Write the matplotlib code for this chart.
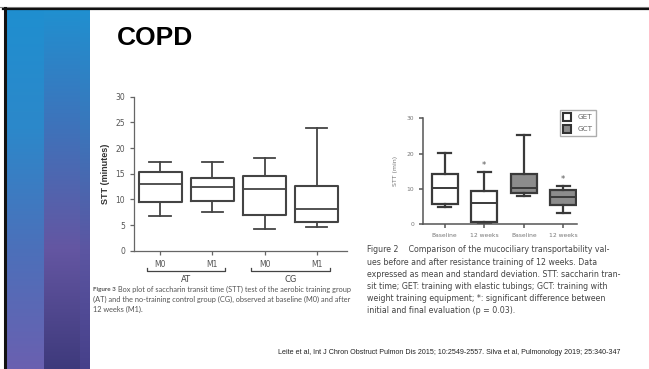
import numpy as np
import matplotlib.pyplot as plt
from matplotlib.colors import LinearSegmentedColormap
from matplotlib.patches import Patch

W, H = 649, 369

# left chart: aerobic training (AT) vs control (CG), STT in minutes
left_labels = ["M0", "M1", "M0", "M1"]
left_groups = ["AT", "CG"]
left_whislo = [6.7, 7.6, 4.2, 4.6]
left_q1 = [9.4, 9.7, 6.9, 5.5]
left_med = [12.9, 12.5, 12.1, 8.2]
left_q3 = [15.4, 14.2, 14.5, 12.7]
left_whishi = [17.3, 17.3, 18.1, 24.0]

# right chart: GET (elastic tubings) vs GCT (weight equipment)
right_labels = ["Baseline", "12 weeks", "Baseline", "12 weeks"]
right_whislo = [4.9, 0.0, 7.9, 3.0]
right_q1 = [5.8, 0.7, 8.8, 5.3]
right_med = [10.3, 6.0, 10.1, 7.6]
right_q3 = [14.1, 9.5, 14.2, 9.6]
right_whishi = [20.2, 14.7, 25.3, 10.8]
right_star = [None, 16.7, None, 12.7]

fig = plt.figure(figsize=(W / 100, H / 100), dpi=100)
bg = fig.add_axes([0, 0, 1, 1])
bg.set_xlim(0, W)
bg.set_ylim(H, 0)
bg.axis("off")

# side stripes with vertical gradients
grad = np.linspace(0, 1, 256).reshape(-1, 1)
stripes = [
    (6, 44, ["#1f8fd0", "#2c88ca", "#4c70ba", "#6a60b0"]),
    (44, 80, ["#2090d0", "#3f72ba", "#6456a2", "#3e3a7c"]),
    (80, 90, ["#2090d0", "#3a76bb", "#5c56a2", "#46408a"]),
]
for x0, x1, cols in stripes:
    cm = LinearSegmentedColormap.from_list("s", cols)
    bg.imshow(grad, cmap=cm, extent=[x0, x1, H, 9], aspect="auto", zorder=1)
bg.plot([0, W], [7.2, 7.2], color="#888888", lw=0.8, zorder=2)
bg.plot([3, W], [8.5, 8.5], color="#111111", lw=1.6, zorder=2)
bg.plot([4.8, 4.8], [8, H], color="#111111", lw=2.2, zorder=2)
bg.set_xlim(0, W)
bg.set_ylim(H, 0)

bg.text(117, 38, "COPD", fontsize=19, fontweight="bold", family="Liberation Sans",
        va="center", ha="left", color="#000000")


def px_axes(x0, x1, ytop, ybot):
    return fig.add_axes([x0 / W, 1 - ybot / H, (x1 - x0) / W, (ybot - ytop) / H])


def style(ax, color, lw):
    for s in ["top", "right"]:
        ax.spines[s].set_visible(False)
    for s in ["left", "bottom"]:
        ax.spines[s].set_color(color)
        ax.spines[s].set_linewidth(lw)
    ax.tick_params(colors=color, length=3, width=lw, direction="out")
    ax.patch.set_alpha(0)


def stats(lo, q1, med, q3, hi):
    return [dict(whislo=a, q1=b, med=c, q3=d, whishi=e, fliers=[])
            for a, b, c, d, e in zip(lo, q1, med, q3, hi)]


# ---- left chart
axl = px_axes(134, 347, 96.7, 250.7)
pos = np.arange(1, 5)
lc = "#444444"
axl.bxp(stats(left_whislo, left_q1, left_med, left_q3, left_whishi), positions=pos,
        widths=0.82, showfliers=False,
        boxprops=dict(color=lc, lw=1.5), medianprops=dict(color=lc, lw=1.3),
        whiskerprops=dict(color=lc, lw=1.3), capprops=dict(color=lc, lw=1.3))
axl.set_xlim(0.5, 4.58)
axl.set_ylim(0, 30)
axl.set_yticks(range(0, 31, 5))
axl.set_xticks(pos)
axl.set_xticklabels(left_labels)
style(axl, "#666666", 0.9)
axl.tick_params(labelsize=5.5, labelcolor="#555555")
axl.set_ylabel("STT (minutes)", fontsize=6.5, fontweight="bold", color="#333333",
               family="Liberation Sans", labelpad=4)
for i, g in enumerate(left_groups):
    c = 1.5 + 2 * i
    axl.plot([c - 0.75, c - 0.75, c + 0.75, c + 0.75], [-0.11, -0.13, -0.13, -0.11],
             color="#444444", lw=0.9, transform=axl.get_xaxis_transform(), clip_on=False)
    axl.text(c, -0.19, g, fontsize=6, color="#444444", ha="center", va="center",
             transform=axl.get_xaxis_transform())

cap3 = ["(AT) and the no-training control group (CG), observed at baseline (M0) and after",
        "12 weeks (M1)."]
fs3 = 5.3
head = bg.text(93, 289, "Figure 3", fontsize=fs3 * 0.85, fontweight="bold", color="#555555",
               family="Lato", va="center")
fig.canvas.draw()
hx = head.get_window_extent().x1
bg.text(hx + 2.5, 289, "Box plot of saccharin transit time (STT) test of the aerobic training group",
        fontsize=fs3, color="#555555", family="Lato", va="center")
for k, line in enumerate(cap3):
    bg.text(93, 299 + 10 * k, line, fontsize=fs3, color="#555555", family="Lato", va="center")

# ---- right chart
axr = px_axes(423.3, 576.7, 118.3, 224)
rc = "#3a3a3a"
bp = axr.bxp(stats(right_whislo, right_q1, right_med, right_q3, right_whishi), positions=pos,
             widths=0.66, showfliers=False, patch_artist=True,
             boxprops=dict(edgecolor=rc, lw=1.6), medianprops=dict(color=rc, lw=1.4),
             whiskerprops=dict(color=rc, lw=1.6), capprops=dict(color=rc, lw=1.6))
for i, b in enumerate(bp["boxes"]):
    b.set_facecolor("white" if i < 2 else "#8c8c8c")
for i, s in enumerate(right_star):
    if s is not None:
        axr.text(pos[i], s, "*", ha="center", va="center", fontsize=6, color="#555555")
axr.set_xlim(0.46, 4.34)
axr.set_ylim(0, 30)
axr.set_yticks([0, 10, 20, 30])
axr.set_xticks(pos)
axr.set_xticklabels(right_labels)
style(axr, "#555555", 1.1)
axr.tick_params(labelsize=4.3, labelcolor="#777777")
axr.set_ylabel("STT (min)", fontsize=4.5, color="#777777", labelpad=6)
leg = axr.legend(handles=[Patch(facecolor="white", edgecolor="#333333", lw=1.5, label="GET"),
                          Patch(facecolor="#8c8c8c", edgecolor="#333333", lw=1.5, label="GCT")],
                 loc="upper left", bbox_to_anchor=(0.89, 1.08), fontsize=5.2, frameon=True,
                 fancybox=False, edgecolor="#999999", handlelength=1.1, handleheight=1.3,
                 borderpad=0.45, labelspacing=0.55, handletextpad=0.9, borderaxespad=0)
for t in leg.get_texts():
    t.set_color("#666666")

cap2 = ["Figure 2    Comparison of the mucociliary transportability val-",
        "ues before and after resistance training of 12 weeks. Data",
        "expressed as mean and standard deviation. STT: saccharin tran-",
        "sit time; GET: training with elastic tubings; GCT: training with",
        "weight training equipment; *: significant difference between",
        "initial and final evaluation (p = 0.03)."]
for k, line in enumerate(cap2):
    bg.text(367, 250 + 12.1 * k, line, fontsize=5.7, color="#444444", va="center")

bg.text(620, 352, "Leite et al, Int J Chron Obstruct Pulmon Dis 2015; 10:2549-2557. "
        "Silva et al, Pulmonology 2019; 25:340-347",
        fontsize=5.1, color="#222222", family="Liberation Sans", ha="right", va="center")

fig.savefig("out.png", dpi=100)
